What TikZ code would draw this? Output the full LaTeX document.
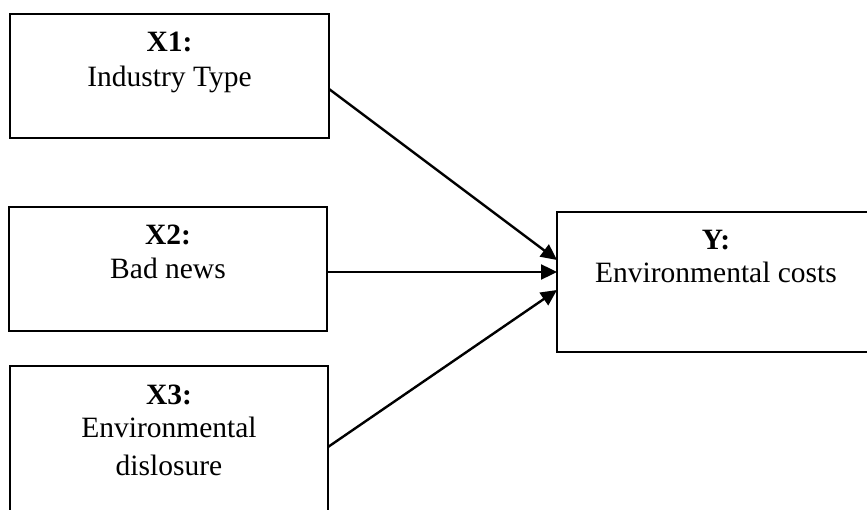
\documentclass[tikz,border=0pt]{standalone}
\usepackage{fontspec}
\setmainfont{Liberation Serif}
\usetikzlibrary{arrows.meta,calc}
\begin{document}
\begin{tikzpicture}[x=1pt,y=-1pt,
  box/.style={draw,line width=1.8pt,inner sep=0pt,outer sep=0pt},
  txt/.style={anchor=base,inner sep=0pt,font=\fontsize{29.5}{34}\selectfont},
  conn/.style={line width=2.4pt,-{Triangle[length=16pt,width=15pt]}}]
\useasboundingbox (0,0) rectangle (867,510);
\clip (0,0) rectangle (867,510);
\node[box,minimum width=319pt,minimum height=124pt] (x1) at (169.5,76) {};
\node[box,minimum width=318pt,minimum height=124pt] (x2) at (168,269) {};
\node[box,minimum width=318pt,minimum height=164pt] (x3) at (169,448) {};
\node[box,minimum width=318pt,minimum height=140pt] (y) at (716,282) {};
\node[txt] (t1a) at (169.5,52) {\textbf{X1:}};
\node[txt] (t1b) at (169.5,87) {Industry Type};
\node[txt] (t2a) at (168,245) {\textbf{X2:}};
\node[txt] (t2b) at (168,279) {Bad news};
\node[txt] (t3a) at (169,404) {\textbf{X3:}};
\node[txt] (t3b) at (169,437) {Environmental};
\node[txt] (t3c) at (169,475) {dislosure};
\node[txt] (tya) at (716,250) {\textbf{Y:}};
\node[txt] (tyb) at (716,283) {Environmental costs};
\draw[conn] ($(x1.east)+(0,13)$) -- ($(y.west)+(0,-22)$);
\draw[conn] ($(x2.east)+(0,3)$) -- ($(y.west)+(0,-10)$);
\draw[conn] ($(x3.east)+(0,-1)$) -- ($(y.west)+(0,8)$);
\end{tikzpicture}
\end{document}
